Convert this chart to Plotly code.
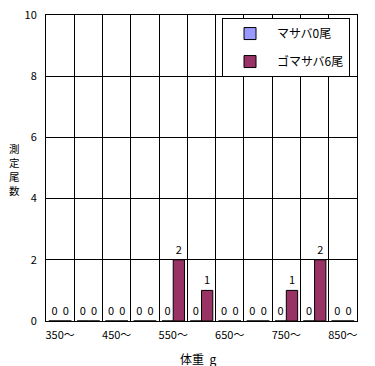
import plotly.graph_objects as go

categories = ["350～", "400～", "450～", "500～", "550～", "600～", "650～", "700～", "750～", "800～", "850～"]
masaba = [0, 0, 0, 0, 0, 0, 0, 0, 0, 0, 0]
gomasaba = [0, 0, 0, 0, 2, 1, 0, 0, 1, 2, 0]
series_names = ["マサバ0尾", "ゴマサバ6尾"]
y_title_chars = ["測", "定", "尾", "数"]
x_title = "体重  g"
tick_text = [c if i % 2 == 0 else "" for i, c in enumerate(categories)]

FONT = "Noto Sans CJK JP, sans-serif"

fig = go.Figure()
fig.add_trace(go.Bar(x=categories, y=masaba, name=series_names[0],
                     marker=dict(color="#9999FF", line=dict(color="black", width=1)),
                     text=masaba, textposition="outside", cliponaxis=False,
                     textfont=dict(size=11, color="black"), legendgroup="a"))
fig.add_trace(go.Bar(x=categories, y=gomasaba, name=series_names[1],
                     marker=dict(color="#993366", line=dict(color="black", width=1)),
                     text=gomasaba, textposition="outside", cliponaxis=False,
                     textfont=dict(size=11, color="black"), legendgroup="b"))

annotations = []
for i, ch in enumerate(y_title_chars):
    annotations.append(dict(text=ch, xref="paper", yref="paper",
                            x=-0.10, y=0.565 - i * 0.0467, xanchor="center", yanchor="middle",
                            showarrow=False, font=dict(size=10.5)))
annotations.append(dict(text=x_title, xref="paper", yref="paper", x=0.49, y=-0.121,
                        xanchor="center", yanchor="middle", showarrow=False,
                        font=dict(size=12)))

fig.update_layout(
    width=375, height=366,
    margin=dict(l=46, r=18, t=15, b=45, autoexpand=False),
    paper_bgcolor="white", plot_bgcolor="white",
    font=dict(family=FONT, size=11, color="black"),
    barmode="group", bargap=0.2, bargroupgap=0,
    showlegend=True,
    legend=dict(x=0.566, y=0.99, xanchor="left", yanchor="top",
                bordercolor="black", borderwidth=1, bgcolor="white",
                font=dict(size=12), tracegroupgap=9,
                itemwidth=44),
    xaxis=dict(type="category", tickson="boundaries", tickvals=categories, ticktext=tick_text,
               showgrid=True, gridcolor="black", gridwidth=1, ticks="", ticklen=0,
               showline=True, linecolor="black", mirror=True, linewidth=1,
               tickfont=dict(size=11), range=[-0.5, 10.5], tickangle=0, automargin=False,
               ticklabelstandoff=4, ticklabeloverflow="allow"),
    yaxis=dict(range=[0, 10], dtick=2, showgrid=True, gridcolor="black", gridwidth=1,
               showline=True, linecolor="black", mirror=True, linewidth=1, automargin=False,
               zeroline=False, ticks="", tickfont=dict(size=11), ticklabelstandoff=6,
               ticklabeloverflow="allow"),
    annotations=annotations,
)

fig.write_html("out.html", config={"displayModeBar": False},
               post_script="document.body.style.margin='0px';")
